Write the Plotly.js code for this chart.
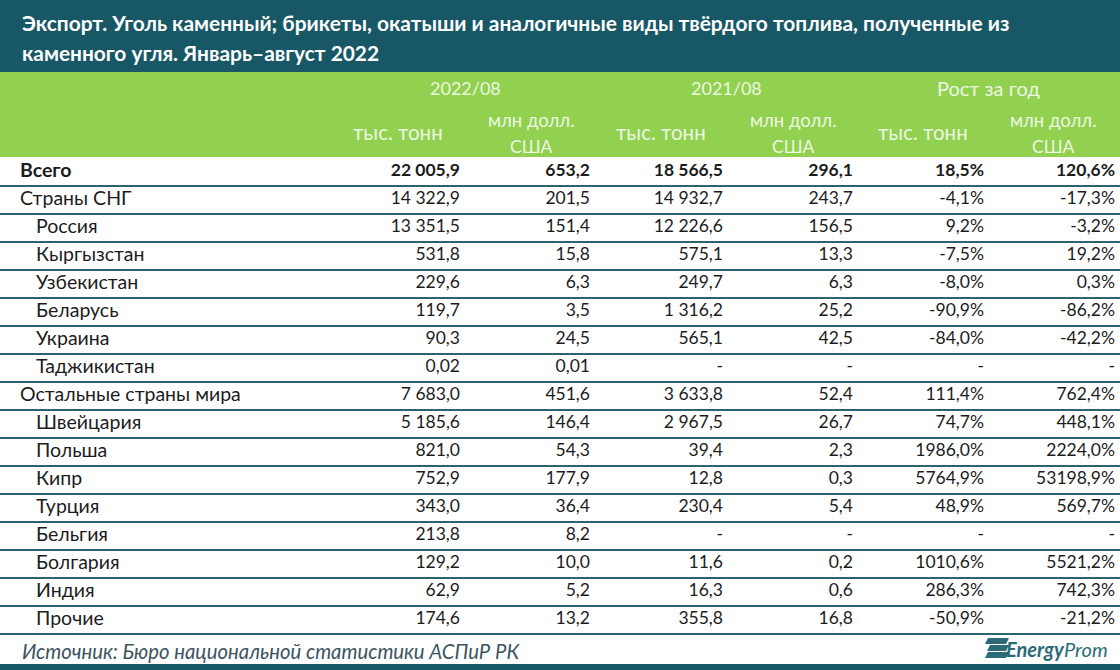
<!DOCTYPE html>
<html><head><meta charset="utf-8">
<script src="https://cdn.plot.ly/plotly-3.0.1.min.js"></script>
<style>html,body{margin:0;padding:0;background:#fff}#chart{width:1120px;height:670px}</style>
</head><body><div id="chart"></div>
<script>
// ---- data ----
const rowLabels = ['Всего','Страны СНГ','Россия','Кыргызстан','Узбекистан','Беларусь','Украина','Таджикистан','Остальные страны мира','Швейцария','Польша','Кипр','Турция','Бельгия','Болгария','Индия','Прочие'];
const rowLevel = [0,0,1,1,1,1,1,1,0,1,1,1,1,1,1,1,1];
const tons2022 = [22005.9,14322.9,13351.5,531.8,229.6,119.7,90.3,0.02,7683.0,5185.6,821.0,752.9,343.0,213.8,129.2,62.9,174.6];
const usd2022  = [653.2,201.5,151.4,15.8,6.3,3.5,24.5,0.01,451.6,146.4,54.3,177.9,36.4,8.2,10.0,5.2,13.2];
const tons2021 = [18566.5,14932.7,12226.6,575.1,249.7,1316.2,565.1,null,3633.8,2967.5,39.4,12.8,230.4,null,11.6,16.3,355.8];
const usd2021  = [296.1,243.7,156.5,13.3,6.3,25.2,42.5,null,52.4,26.7,2.3,0.3,5.4,null,0.2,0.6,16.8];
const growthTons = [18.5,-4.1,9.2,-7.5,-8.0,-90.9,-84.0,null,111.4,74.7,1986.0,5764.9,48.9,null,1010.6,286.3,-50.9];
const growthUsd  = [120.6,-17.3,-3.2,19.2,0.3,-86.2,-42.2,null,762.4,448.1,2224.0,53198.9,569.7,null,5521.2,742.3,-21.2];
const groupHeaders = ['2022/08','2021/08','Рост за год'];
const unitTons = 'тыс. тонн';
const unitUsd = ['млн долл.','США'];
const titleLines = ['Экспорт. Уголь каменный; брикеты, окатыши и аналогичные виды твёрдого топлива, полученные из','каменного угля. Январь–август 2022'];
const sourceText = 'Источник: Бюро национальной статистики АСПиР РК';

// ---- formatting ----
function fmtNum(v){
  if(v===null) return '-';
  const d = Math.abs(v) < 0.1 ? 2 : 1;
  let s = Math.abs(v).toFixed(d);
  let [ip, fp] = s.split('.');
  ip = ip.replace(/\B(?=(\d{3})+(?!\d))/g, ' ');
  return (v<0?'-':'') + ip + ',' + fp;
}
function fmtPct(v){
  if(v===null) return '-';
  return v.toFixed(1).replace('.', ',') + '%';
}

const W=1120, H=670;
const FONT = 'Lato, "Open Sans", sans-serif';
const TEXTC = '#1c1c1c';
const TEAL = '#185766';
const GREEN = '#92d050';
const HEADC = '#ecf7e0';
const rowIdx = rowLabels.map((_,i)=>i);
const bold = (s,i)=> i===0 ? '<b>'+s+'</b>' : s;

const columns = [
  {vals: tons2022, f: fmtNum, x: 460},
  {vals: usd2022, f: fmtNum, x: 590},
  {vals: tons2021, f: fmtNum, x: 723},
  {vals: usd2021, f: fmtNum, x: 853},
  {vals: growthTons, f: fmtPct, x: 984},
  {vals: growthUsd, f: fmtPct, x: 1115}
];

const traces = [];
traces.push({
  type:'scatter', mode:'text',
  x: rowLevel.map(l => l ? 36 : 20), y: rowIdx,
  text: rowLabels.map(bold),
  textposition:'middle right',
  textfont:{family:FONT, size:19.5, color:TEXTC},
  hoverinfo:'skip', showlegend:false
});
columns.forEach(c=>{
  traces.push({
    type:'scatter', mode:'text',
    x: rowIdx.map(()=>c.x), y: rowIdx,
    text: c.vals.map((v,i)=>bold(c.f(v),i)),
    textposition:'middle left',
    textfont:{family:FONT, size:17.5, color:TEXTC},
    hoverinfo:'skip', showlegend:false
  });
});

// y axis: row i centred at pixel 172 + 28*i
const rowH = 28, row0 = 172;
const yTop = -row0/rowH, yBot = yTop + H/rowH;
const py = px => 1 - px/H;

const shapes = [
  {type:'rect', xref:'paper', yref:'paper', x0:0, x1:1, y0:py(72), y1:1, fillcolor:TEAL, line:{width:0}, layer:'below'},
  {type:'rect', xref:'paper', yref:'paper', x0:0, x1:1, y0:py(157), y1:py(72), fillcolor:GREEN, line:{width:0}, layer:'below'},
  {type:'rect', xref:'paper', yref:'paper', x0:0, x1:1, y0:0, y1:py(664), fillcolor:TEAL, line:{width:0}, layer:'below'}
];
rowIdx.forEach(i=>{
  shapes.push({type:'line', xref:'x', yref:'y', x0:0, x1:W, y0:i+0.5, y1:i+0.5, line:{color:'#2a6470', width:2}});
});
// logo icon (three slanted bars)
[[638,644],[645,651],[652,658]].forEach(([a,b],k)=>{
  const x0 = 985 + (k===1?2:0), x1 = 1006, sl = 3;
  shapes.push({type:'path', xref:'x', yref:'paper',
    path:`M ${x0+sl} ${py(a)} L ${x1+sl} ${py(a)} L ${x1} ${py(b)} L ${x0} ${py(b)} Z`,
    fillcolor:'#2b6b77', line:{width:0}});
});

const annotations = [];
annotations.push({xref:'x', yref:'paper', x:20, y:py(22), xanchor:'left', yanchor:'middle', showarrow:false,
  text:'<b>'+titleLines[0]+'</b>', font:{family:FONT, size:20.9, color:'#ffffff'}});
annotations.push({xref:'x', yref:'paper', x:20, y:py(52), xanchor:'left', yanchor:'middle', showarrow:false,
  text:'<b>'+titleLines[1]+'</b>', font:{family:FONT, size:20.9, color:'#ffffff'}});
// group headers
[[groupHeaders[0],465,18],[groupHeaders[1],726,18],[groupHeaders[2],988,20]].forEach(([t,x,s])=>{
  annotations.push({xref:'x', yref:'paper', x:x, y:py(88), xanchor:'center', yanchor:'middle', showarrow:false,
    text:t, font:{family:FONT, size:s, color:HEADC}});
});
[398,661,923].forEach(x=>{
  annotations.push({xref:'x', yref:'paper', x:x, y:py(132), xanchor:'center', yanchor:'middle', showarrow:false,
    text:unitTons, font:{family:FONT, size:20.5, color:HEADC}});
});
[531,793,1053].forEach(x=>{
  annotations.push({xref:'x', yref:'paper', x:x, y:py(120), xanchor:'center', yanchor:'middle', showarrow:false,
    text:unitUsd[0], font:{family:FONT, size:18.5, color:HEADC}});
  annotations.push({xref:'x', yref:'paper', x:x, y:py(146), xanchor:'center', yanchor:'middle', showarrow:false,
    text:unitUsd[1], font:{family:FONT, size:17.5, color:HEADC}});
});
annotations.push({xref:'x', yref:'paper', x:20, y:py(651), xanchor:'left', yanchor:'middle', showarrow:false,
  text:'<i>'+sourceText+'</i>', font:{family:FONT, size:20.3, color:'#3b5561'}});
annotations.push({xref:'x', yref:'paper', x:1110, y:py(649), xanchor:'right', yanchor:'middle', showarrow:false,
  text:'<i><b>Energy</b>Prom</i>', font:{family:FONT, size:20, color:'#2b6b77'}});

const layout = {
  width:W, height:H, margin:{l:0,r:0,t:0,b:0},
  paper_bgcolor:'#ffffff', plot_bgcolor:'rgba(0,0,0,0)',
  xaxis:{range:[0,W], visible:false, fixedrange:true},
  yaxis:{range:[yBot, yTop], visible:false, fixedrange:true},
  shapes, annotations, showlegend:false
};
Plotly.newPlot('chart', traces, layout, {displayModeBar:false, staticPlot:true});
</script></body></html>
